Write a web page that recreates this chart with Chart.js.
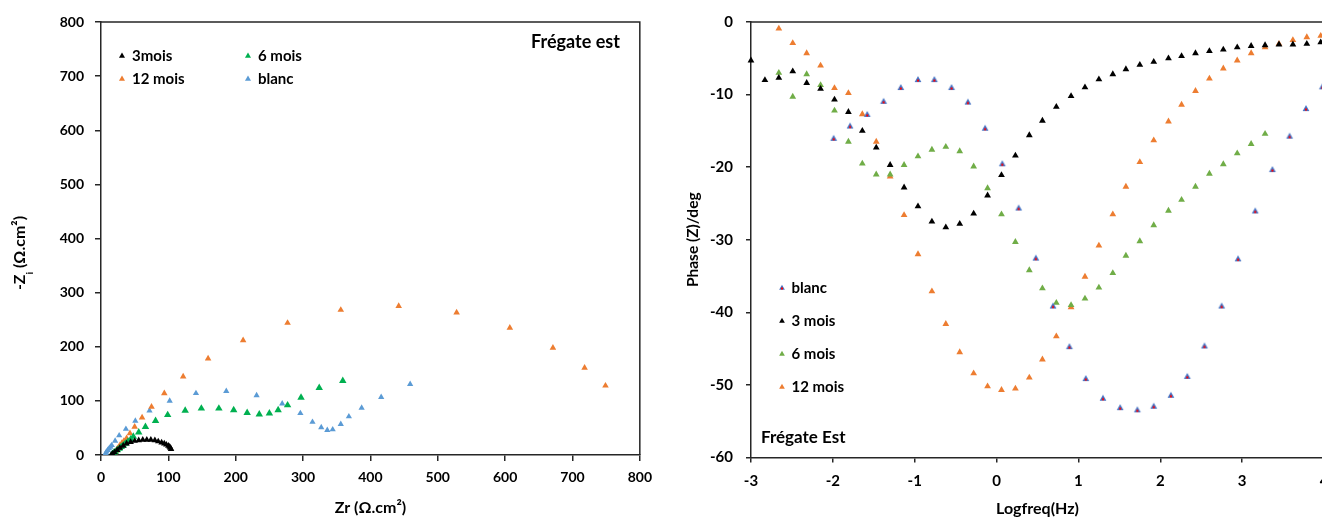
<!DOCTYPE html>
<html>
<head>
<meta charset="utf-8">
<script src="https://cdn.jsdelivr.net/npm/chart.js@4"></script>
<style>
    html, body { margin: 0; padding: 0; background: #fff; overflow: hidden; }
    #nyquist { position: absolute; left: 0; top: 0; }
    #bode { position: absolute; left: 660px; top: 0; }
</style>
</head>
<body>
<canvas id="nyquist" width="660" height="518"></canvas>
<canvas id="bode" width="690" height="518"></canvas>
<script>
// --- Nyquist (Zr / -Zi, Ω.cm²) ---
const zr3mois = [15, 17, 20, 24, 28, 33, 38, 44, 50, 56, 62, 68, 74, 80, 85, 90, 94, 97, 100, 102, 103, 104];
const zi3mois = [0, 2, 5, 9, 13, 17, 21, 24, 26, 27, 28, 28, 28, 27, 25, 23, 21, 19, 17, 15, 13, 11];

const zr6mois = [16, 17, 19, 21, 24, 27, 30, 33, 36, 40, 44, 48, 56, 66, 81, 99, 125, 149, 175, 197, 217, 235, 250, 263, 277, 297, 324, 359];
const zi6mois = [0, 2, 4, 6, 9, 12, 15, 18, 21, 25, 29, 34, 42, 52, 63, 74, 82, 86, 86, 83, 78, 75, 77, 83, 92, 106, 124, 137];

const zr12mois = [18, 19, 20, 22, 24, 26, 28, 31, 34, 38, 43, 50, 61, 75, 94, 122, 159, 211, 277, 356, 442, 528, 607, 671, 718, 749];
const zi12mois = [0, 2, 4, 7, 11, 14, 18, 22, 26, 31, 40, 52, 69, 89, 114, 145, 178, 212, 244, 268, 275, 263, 235, 198, 161, 128];

const zrBlanc = [6, 7, 8, 10, 12, 14, 16, 21, 27, 37, 51, 72, 102, 141, 186, 231, 269, 296, 314, 327, 336, 344, 356, 368, 387, 416, 459];
const ziBlanc = [0, 3, 6, 9, 12, 15, 18, 26, 36, 48, 63, 82, 100, 114, 118, 110, 95, 77, 61, 51, 46, 47, 57, 71, 87, 107, 131];

// --- Bode phase (Logfreq / Phase) ---
const lfBlanc = [-1.99, -1.79, -1.58, -1.38, -1.17, -0.96, -0.76, -0.55, -0.35, -0.14, 0.07, 0.27, 0.48, 0.69, 0.89, 1.09, 1.30, 1.51, 1.72, 1.92, 2.13, 2.33, 2.54, 2.75, 2.95, 3.16, 3.37, 3.58, 3.78, 3.98];
const phBlanc = [-16.1, -14.4, -12.8, -11.0, -9.1, -8.0, -8.0, -9.1, -11.1, -14.7, -19.6, -25.7, -32.6, -39.2, -44.8, -49.2, -51.9, -53.2, -53.5, -53.0, -51.5, -48.9, -44.7, -39.2, -32.7, -26.1, -20.4, -15.8, -12.0, -9.0];

const lf3mois = [-3.0, -2.83, -2.66, -2.49, -2.32, -2.15, -1.98, -1.81, -1.64, -1.47, -1.30, -1.13, -0.96, -0.79, -0.62, -0.45, -0.28, -0.11, 0.06, 0.23, 0.40, 0.56, 0.73, 0.91, 1.08, 1.25, 1.42, 1.58, 1.75, 1.92, 2.10, 2.26, 2.43, 2.60, 2.77, 2.94, 3.11, 3.28, 3.45, 3.62, 3.79, 3.96];
const ph3mois = [-5.3, -8.0, -7.7, -6.8, -8.4, -9.2, -10.7, -12.4, -15.0, -17.3, -19.7, -22.8, -25.4, -27.5, -28.3, -27.8, -26.4, -23.9, -21.1, -18.4, -15.6, -13.6, -11.7, -10.2, -9.0, -7.9, -7.2, -6.5, -5.9, -5.5, -5.0, -4.7, -4.3, -4.0, -3.8, -3.5, -3.3, -3.2, -3.1, -3.1, -3.0, -2.8];

const lf6mois = [-2.66, -2.49, -2.32, -2.15, -1.98, -1.81, -1.64, -1.47, -1.30, -1.13, -0.96, -0.79, -0.62, -0.45, -0.28, -0.11, 0.06, 0.23, 0.40, 0.56, 0.73, 0.91, 1.08, 1.25, 1.42, 1.58, 1.75, 1.92, 2.10, 2.26, 2.43, 2.60, 2.77, 2.94, 3.11, 3.28];
const ph6mois = [-7.0, -10.3, -7.2, -8.7, -12.2, -16.5, -19.5, -21.0, -21.0, -19.7, -18.5, -17.6, -17.2, -17.8, -19.9, -22.9, -26.5, -30.3, -34.2, -36.7, -38.7, -39.0, -38.1, -36.6, -34.6, -32.2, -30.2, -28.0, -26.0, -24.5, -22.7, -20.9, -19.6, -18.1, -16.8, -15.4];

const lf12mois = [-2.66, -2.49, -2.32, -2.15, -1.98, -1.81, -1.64, -1.47, -1.30, -1.13, -0.96, -0.79, -0.62, -0.45, -0.28, -0.11, 0.06, 0.23, 0.40, 0.56, 0.73, 0.91, 1.08, 1.25, 1.42, 1.58, 1.75, 1.92, 2.10, 2.26, 2.43, 2.60, 2.77, 2.94, 3.11, 3.28, 3.45, 3.62, 3.79, 3.96];
const ph12mois = [-0.9, -2.9, -4.3, -6.0, -9.1, -9.8, -12.7, -16.5, -21.3, -26.6, -32.0, -37.1, -41.6, -45.5, -48.4, -50.2, -50.7, -50.5, -49.0, -46.5, -43.3, -39.3, -35.1, -30.8, -26.5, -22.7, -19.3, -16.3, -13.7, -11.4, -9.5, -7.8, -6.4, -5.3, -4.3, -3.5, -3.0, -2.5, -2.1, -1.9];

const FONT = 'Lato';
const AXIS = '#262626';

const toPoints = (xs, ys) => xs.map((x, i) => ({ x: x, y: ys[i] }));

function drawTriangle(ctx, x, y, r, color, dot) {
    ctx.fillStyle = color;
    ctx.beginPath();
    ctx.moveTo(x, y - r);
    ctx.lineTo(x + r * 0.866, y + r * 0.5);
    ctx.lineTo(x - r * 0.866, y + r * 0.5);
    ctx.closePath();
    ctx.fill();
    if (dot) {
        ctx.fillStyle = dot;
        ctx.fillRect(x - 1, y - 0.5, 2, 2);
    }
}

// blue triangle with a red centre, used for "blanc" on the phase plot
function blancMarker(r) {
    const c = document.createElement('canvas');
    const s = Math.ceil(r * 2) + 2;
    c.width = s;
    c.height = s;
    drawTriangle(c.getContext('2d'), s / 2, s / 2, r, '#4472C4', '#FF0000');
    return c;
}

// top line (and right line) of the plot box
const framePlugin = {
    id: 'frame',
    beforeDatasetsDraw(chart, args, opts) {
        const { ctx, chartArea: a } = chart;
        ctx.save();
        ctx.strokeStyle = AXIS;
        ctx.lineWidth = 1.5;
        ctx.beginPath();
        ctx.moveTo(a.left, a.top);
        ctx.lineTo(a.right, a.top);
        if (opts.right) ctx.lineTo(a.right, a.bottom);
        ctx.stroke();
        ctx.restore();
    }
};

// legend and caption drawn inside the plot area
const boxLegend = {
    id: 'boxLegend',
    afterDraw(chart, args, opts) {
        const { ctx, chartArea: a } = chart;
        ctx.save();
        ctx.font = `bold ${opts.size}px ${FONT}`;
        ctx.textBaseline = 'middle';
        chart.data.datasets.forEach((ds, i) => {
            const col = i % opts.cols;
            const row = Math.floor(i / opts.cols);
            const x = a.left + opts.x + col * opts.colGap;
            const y = a.top + opts.y + row * opts.rowGap;
            drawTriangle(ctx, x, y, opts.marker, ds.backgroundColor, ds.dotColor);
            ctx.fillStyle = '#000';
            ctx.fillText(ds.label, x + opts.textGap, y);
        });
        ctx.font = `bold ${opts.captionSize}px ${FONT}`;
        ctx.textBaseline = 'alphabetic';
        ctx.fillStyle = '#000';
        ctx.fillText(opts.caption, a.left + opts.captionX, a.top + opts.captionY);
        ctx.restore();
    }
};

// rotated y title with a subscript ("-Z" + "i" + " (Ω.cm²)")
const subTitle = {
    id: 'subTitle',
    afterDraw(chart, args, opts) {
        if (!opts.main) return;
        const ctx = chart.ctx;
        const big = `bold ${opts.size}px ${FONT}`;
        const small = `bold ${opts.subSize}px ${FONT}`;
        ctx.save();
        ctx.translate(opts.x, opts.y);
        ctx.rotate(-Math.PI / 2);
        ctx.font = big;
        const w1 = ctx.measureText(opts.main).width;
        const w3 = ctx.measureText(opts.rest).width;
        ctx.font = small;
        const w2 = ctx.measureText(opts.sub).width;
        let x = -(w1 + w2 + w3) / 2;
        ctx.textBaseline = 'middle';
        ctx.fillStyle = '#000';
        ctx.font = big;
        ctx.fillText(opts.main, x, 0);
        x += w1;
        ctx.font = small;
        ctx.fillText(opts.sub, x, opts.subDrop);
        x += w2;
        ctx.font = big;
        ctx.fillText(opts.rest, x, 0);
        ctx.restore();
    }
};

const tickFont = size => ({ family: FONT, size: size, weight: 'bold' });

new Chart(document.getElementById('nyquist'), {
    type: 'scatter',
    data: {
        datasets: [
            { label: '3mois', data: toPoints(zr3mois, zi3mois), backgroundColor: '#000000', pointRadius: 3.8 },
            { label: '6 mois', data: toPoints(zr6mois, zi6mois), backgroundColor: '#00B050', pointRadius: 4.3 },
            { label: '12 mois', data: toPoints(zr12mois, zi12mois), backgroundColor: '#ED7D31', pointRadius: 3.8 },
            { label: 'blanc', data: toPoints(zrBlanc, ziBlanc), backgroundColor: '#5B9BD5', pointRadius: 3.6 }
        ]
    },
    options: {
        responsive: false,
        animation: false,
        layout: { padding: { top: 22, right: 18, left: 0, bottom: 0 } },
        elements: { point: { pointStyle: 'triangle', borderWidth: 0 } },
        scales: {
            x: {
                type: 'linear',
                min: 0,
                max: 800,
                afterFit: scale => { scale.height = 63; },
                ticks: { stepSize: 100, color: '#000', font: tickFont(14), padding: 8, maxRotation: 0 },
                grid: { drawOnChartArea: false, tickLength: 6, color: AXIS, lineWidth: 1.5 },
                border: { color: AXIS, width: 1.5 },
                title: { display: true, text: 'Zr (Ω.cm²)', color: '#000', font: tickFont(16), padding: { bottom: 1 } }
            },
            y: {
                type: 'linear',
                min: 0,
                max: 800,
                afterFit: scale => { scale.width = 101; },
                ticks: { stepSize: 100, color: '#000', font: tickFont(14), padding: 11 },
                grid: { drawOnChartArea: false, tickLength: 6, color: AXIS, lineWidth: 1.5 },
                border: { color: AXIS, width: 1.5 },
                title: { display: false }
            }
        },
        plugins: {
            legend: { display: false },
            tooltip: { enabled: false },
            frame: { right: true },
            boxLegend: {
                cols: 2, x: 21, y: 34, colGap: 126, rowGap: 23, textGap: 10,
                marker: 3.5, size: 15,
                caption: 'Frégate est', captionX: 430, captionY: 26, captionSize: 18
            },
            subTitle: {
                main: '-Z', sub: 'i', rest: ' (Ω.cm²)',
                x: 20, y: 253, size: 16, subSize: 10, subDrop: 10
            }
        }
    },
    plugins: [framePlugin, boxLegend, subTitle]
});

new Chart(document.getElementById('bode'), {
    type: 'scatter',
    data: {
        datasets: [
            { label: 'blanc', data: toPoints(lfBlanc, phBlanc), backgroundColor: '#4472C4', dotColor: '#FF0000', pointStyle: blancMarker(3.9) },
            { label: '3 mois', data: toPoints(lf3mois, ph3mois), backgroundColor: '#000000' },
            { label: '6 mois', data: toPoints(lf6mois, ph6mois), backgroundColor: '#70AD47' },
            { label: '12 mois', data: toPoints(lf12mois, ph12mois), backgroundColor: '#ED7D31' }
        ]
    },
    options: {
        responsive: false,
        animation: false,
        layout: { padding: { top: 21, right: 26, left: 0, bottom: 0 } },
        elements: { point: { pointStyle: 'triangle', radius: 3.9, borderWidth: 0 } },
        datasets: { scatter: { clip: false } },
        scales: {
            x: {
                type: 'linear',
                min: -3,
                max: 4,
                afterFit: scale => { scale.height = 60.5; },
                ticks: { stepSize: 1, color: '#000', font: tickFont(15), padding: 10, maxRotation: 0 },
                grid: { drawOnChartArea: false, tickLength: 5, color: AXIS, lineWidth: 1.5 },
                border: { color: AXIS, width: 1.5 },
                title: { display: true, text: 'Logfreq(Hz)', color: '#000', font: tickFont(16), padding: { bottom: 0 } }
            },
            y: {
                type: 'linear',
                min: -60,
                max: 0,
                afterFit: scale => { scale.width = 91; },
                ticks: { stepSize: 10, color: '#000', font: tickFont(15), padding: 13 },
                grid: { drawOnChartArea: false, tickLength: 5, color: AXIS, lineWidth: 1.5 },
                border: { color: AXIS, width: 1.5 },
                title: { display: true, text: 'Phase (Z)/deg', color: '#000', font: tickFont(15.5), padding: { top: 24 } }
            }
        },
        plugins: {
            legend: { display: false },
            tooltip: { enabled: false },
            frame: { right: false },
            boxLegend: {
                cols: 1, x: 31, y: 266, colGap: 0, rowGap: 33, textGap: 9.5,
                marker: 3.3, size: 15,
                caption: 'Frégate Est', captionX: 10, captionY: 421, captionSize: 17
            },
            subTitle: {}
        }
    },
    plugins: [framePlugin, boxLegend, subTitle]
});
</script>
</body>
</html>
